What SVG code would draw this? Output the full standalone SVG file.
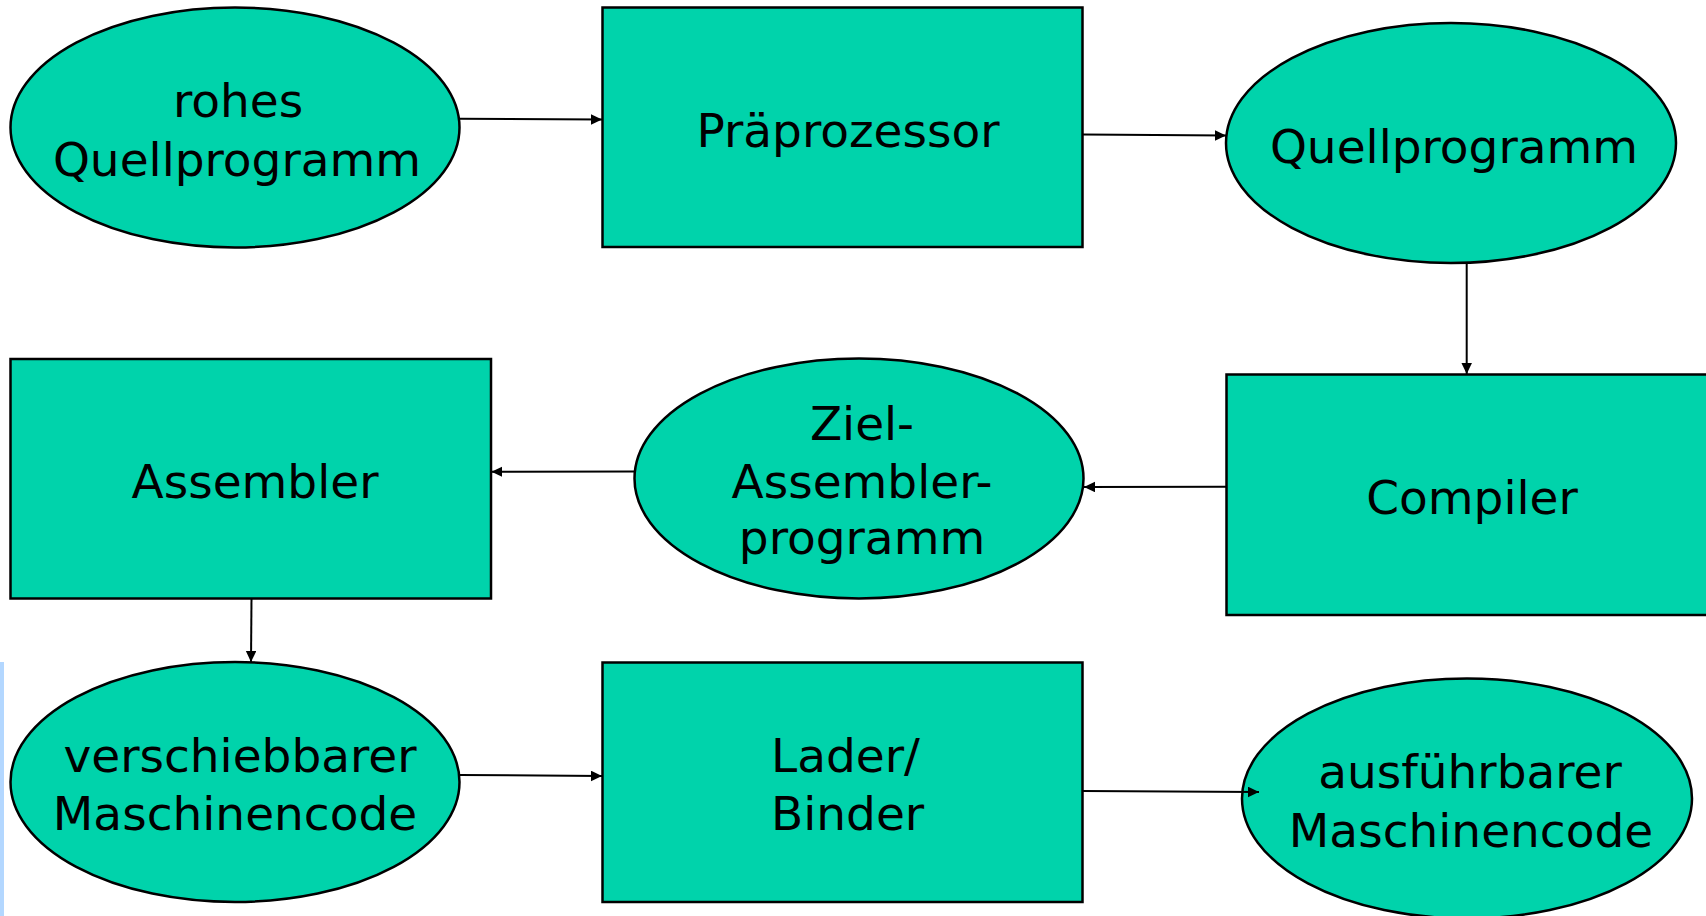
<svg xmlns="http://www.w3.org/2000/svg" width="1706" height="916" viewBox="0 0 1706 916">
<style>
.n{fill:#00d3ab;stroke:#000;stroke-width:2.5}
.t{font-family:"DejaVu Sans","Liberation Sans",sans-serif;font-size:47px;fill:#000;text-anchor:middle}
.l{text-anchor:start}
.c{stroke:#000;stroke-width:2;fill:none;marker-end:url(#ah)}
</style>
<defs>
<marker id="ah" markerUnits="userSpaceOnUse" markerWidth="12" markerHeight="11" refX="11" refY="5.25" orient="auto">
<path d="M0,0 L11,5.25 L0,10.5 z" fill="#000"/>
</marker>
</defs>
<rect x="0" y="662" width="4" height="254" fill="#b3d7ff"/>
<g id="n1"><ellipse class="n" cx="235" cy="127.5" rx="224.5" ry="120"/><text class="t" x="238" y="117">rohes</text><text class="t" x="237" y="175.5">Quellprogramm</text></g>
<g id="n2"><rect class="n" x="602.5" y="7.5" width="480" height="239.5"/><text class="t" x="848" y="147">Präprozessor</text></g>
<g id="n3"><ellipse class="n" cx="1451" cy="143" rx="225" ry="120"/><text class="t" x="1454" y="162.5">Quellprogramm</text></g>
<g id="n4"><rect class="n" x="1226.5" y="374.5" width="485" height="240.5"/><text class="t" x="1472" y="514">Compiler</text></g>
<g id="n5"><ellipse class="n" cx="859" cy="478.5" rx="224.5" ry="120"/><text class="t" x="862" y="439.5">Ziel-</text><text class="t" x="862" y="497.5">Assembler-</text><text class="t" x="862" y="554">programm</text></g>
<g id="n6"><rect class="n" x="10.5" y="359" width="480.5" height="239.5"/><text class="t" x="255" y="497.5">Assembler</text></g>
<g id="n7"><ellipse class="n" cx="235" cy="782" rx="224.5" ry="120"/><text class="t" x="240" y="771.5">verschiebbarer</text><text class="t" x="235" y="830">Maschinencode</text></g>
<g id="n8"><rect class="n" x="602.5" y="662.5" width="480" height="239.5"/><text class="t l" x="771" y="772">Lader/</text><text class="t l" x="771" y="830">Binder</text></g>
<g id="n9"><ellipse class="n" cx="1467" cy="798.5" rx="225" ry="120"/><text class="t" x="1470" y="787.5">ausführbarer</text><text class="t" x="1471" y="846.5">Maschinencode</text></g>
<g id="connectors">
<line class="c" x1="459.5" y1="118.8" x2="602" y2="119.5"/>
<line class="c" x1="1083" y1="134.5" x2="1226" y2="135.5"/>
<line class="c" x1="1466.7" y1="263" x2="1466.7" y2="374"/>
<line class="c" x1="1226" y1="486.7" x2="1084" y2="487"/>
<line class="c" x1="634.5" y1="471.5" x2="491.5" y2="471.7"/>
<line class="c" x1="251.5" y1="598.5" x2="251" y2="662"/>
<line class="c" x1="459.5" y1="775" x2="602" y2="776"/>
<line class="c" x1="1083" y1="791" x2="1259" y2="792"/>
</g>
</svg>
